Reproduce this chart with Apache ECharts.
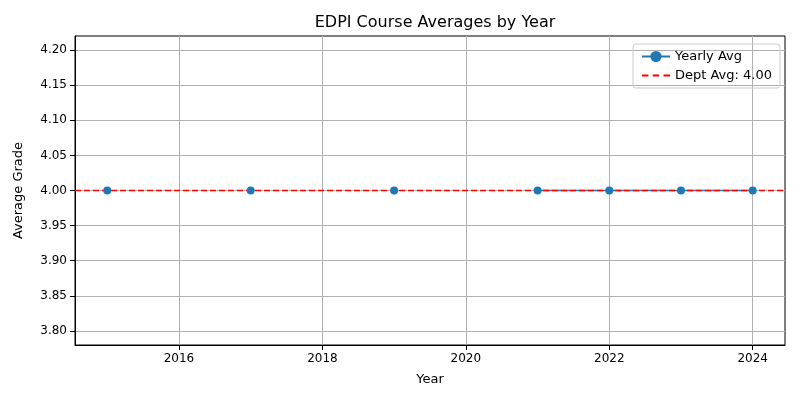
<!DOCTYPE html>
<html>
<head>
<meta charset="utf-8">
<script src="https://cdn.jsdelivr.net/npm/echarts@6/dist/echarts.min.js"></script>
<style>body{margin:0}#chart{width:800px;height:400px}</style>
</head>
<body>
<div id="chart"></div>
<script>
var years = [2015, 2016, 2017, 2018, 2019, 2020, 2021, 2022, 2023, 2024];
var avgs = [4.0, null, 4.0, null, 4.0, null, 4.0, 4.0, 4.0, 4.0];
var deptAvg = 4.0;
var xTicks = [2016, 2018, 2020, 2022, 2024];
var yTicks = [3.80, 3.85, 3.90, 3.95, 4.00, 4.05, 4.10, 4.15, 4.20];
var xMin = 2014.55, xMax = 2024.45;

var chart = echarts.init(document.getElementById('chart'));
var font = 'DejaVu Sans';
var option = {
    animation: false,
    textStyle: {fontFamily: font},
    title: {
        text: 'EDPI Course Averages by Year',
        left: 430, top: 10, textAlign: 'center',
        textStyle: {fontSize: 16, fontWeight: 'normal', color: '#000', fontFamily: font}
    },
    legend: {
        right: 20, top: 44, orient: 'vertical', itemGap: 6,
        borderColor: '#ccc', borderWidth: 1, borderRadius: 3, padding: [6, 8],
        itemWidth: 28, textStyle: {fontSize: 13, color: '#000'},
        data: [{name: 'Yearly Avg'},
               {name: 'Dept Avg: 4.00', icon: 'path://M0,4h6v2h-6zM10,4h6v2h-6zM20,4h6v2h-6z'}]
    },
    grid: {left: 75, right: 15, top: 36, bottom: 55, show: true, borderColor: '#000', borderWidth: 1},
    xAxis: {
        type: 'value', min: xMin, max: xMax,
        name: 'Year', nameLocation: 'middle', nameGap: 28,
        nameTextStyle: {fontSize: 13, color: '#000'},
        axisLine: {onZero: false, lineStyle: {color: '#000'}},
        axisTick: {show: true, customValues: xTicks, lineStyle: {color: '#000'}},
        axisLabel: {customValues: xTicks, color: '#000', fontSize: 12,
            formatter: function (v) { return String(v); }},
        splitLine: {show: true, lineStyle: {color: '#b0b0b0'}}
    },
    yAxis: {
        type: 'value', min: 3.78, max: 4.22,
        name: 'Average Grade', nameLocation: 'middle', nameGap: 50,
        nameTextStyle: {fontSize: 13, color: '#000'},
        axisLine: {show: true, lineStyle: {color: '#000'}},
        axisTick: {show: true, customValues: yTicks, lineStyle: {color: '#000'}},
        axisLabel: {customValues: yTicks, color: '#000', fontSize: 12,
            formatter: function (v) { return v.toFixed(2); }},
        splitLine: {show: true, lineStyle: {color: '#b0b0b0'}}
    },
    series: [{
        name: 'Yearly Avg', type: 'line',
        data: years.map(function (y, i) { return [y, avgs[i]]; }),
        connectNulls: false,
        symbol: 'circle', symbolSize: 8,
        itemStyle: {color: '#1f77b4'}, lineStyle: {color: '#1f77b4', width: 1.5}
    }, {
        name: 'Dept Avg: 4.00', type: 'line',
        data: [[xMin, deptAvg], [xMax, deptAvg]],
        symbol: 'none', itemStyle: {color: 'red'},
        lineStyle: {color: 'red', type: [6, 3], width: 1.5}
    }]
};
chart.setOption(option);
</script>
</body>
</html>
